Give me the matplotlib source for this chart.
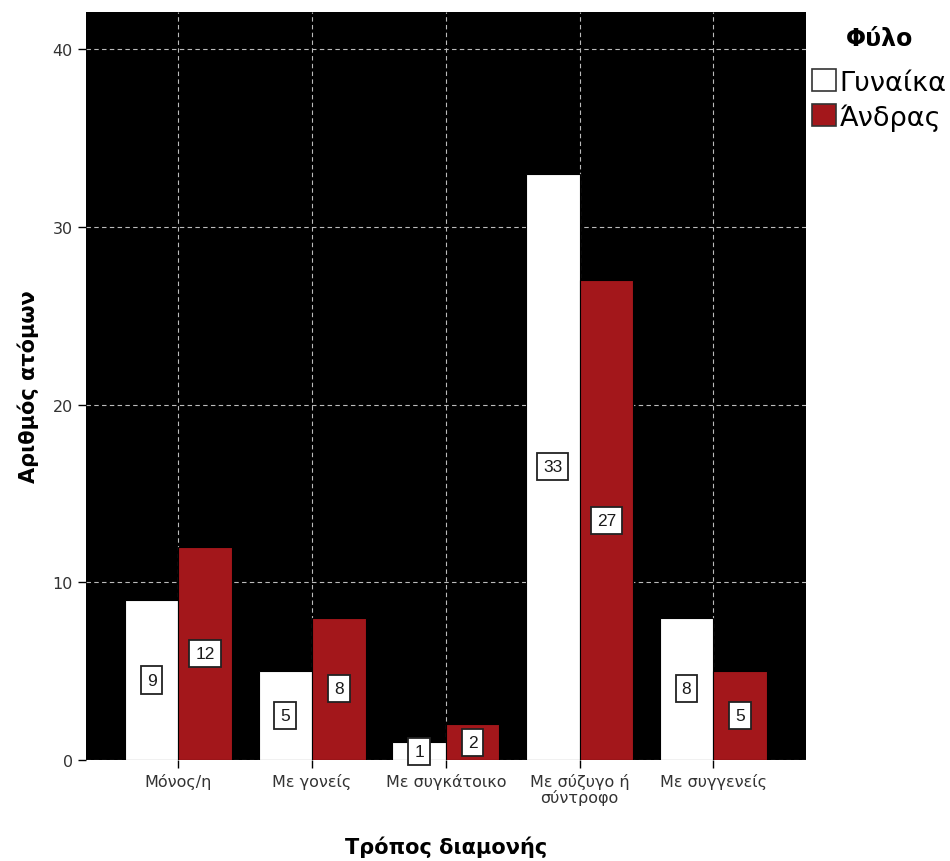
import matplotlib
matplotlib.use("Agg")
import matplotlib.pyplot as plt
import numpy as np
from matplotlib.patches import Patch

categories = ["Μόνος/η", "Με γονείς", "Με συγκάτοικο", "Με σύζυγο ή\nσύντροφο", "Με συγγενείς"]
women = [9, 5, 1, 33, 8]
men = [12, 8, 2, 27, 5]
series_names = ["Γυναίκα", "Άνδρας"]
yticks = [0, 10, 20, 30, 40]

plt.rcParams['font.family'] = ['DejaVu Sans']

fig = plt.figure(figsize=(9.5, 8.62), dpi=100)
ax = fig.add_axes([0.0905, 0.1172, 0.7575, 0.8678])
ax.set_facecolor("black")

x = np.arange(len(categories))
w = 0.4
red = "#a3171b"
b1 = ax.bar(x - w / 2, women, width=w, color="white", edgecolor="black", linewidth=0.8, zorder=3)
b2 = ax.bar(x + w / 2, men, width=w, color=red, edgecolor="black", linewidth=0.8, zorder=3)

for bars, vals in ((b1, women), (b2, men)):
    for rect, v in zip(bars, vals):
        ax.text(rect.get_x() + rect.get_width() / 2, v / 2, str(v),
                ha="center", va="center", fontsize=12.5, color="#1a1a1a", zorder=5,
                family="Liberation Sans",
                bbox=dict(boxstyle="square,pad=0.35", facecolor="white",
                          edgecolor="#222222", linewidth=1.3))

ax.set_xlim(-0.69, 4.69)
ax.set_ylim(0, 42.1)
ax.set_xticks(x)
ax.set_xticklabels(categories, fontsize=11.5, color="#333333", linespacing=0.95)
ax.set_yticks(yticks)
ax.set_yticklabels([str(t) for t in yticks], fontsize=11.5, color="#333333")
ax.tick_params(axis="both", direction="out", length=6, width=1, color="black")

ax.grid(True, color="#bbbbbb", linestyle=(0, (4, 3)), linewidth=0.8, zorder=1)
ax.set_axisbelow(True)
for s in ax.spines.values():
    s.set_visible(False)

ax.set_ylabel("Αριθμός ατόμων", fontsize=15, fontweight="bold", labelpad=10)
ax.set_xlabel("Τρόπος διαμονής", fontsize=15, fontweight="bold", labelpad=22)

handles = [Patch(facecolor="white", edgecolor="#333333", linewidth=1.2),
           Patch(facecolor=red, edgecolor="#333333", linewidth=1.2)]
leg = fig.legend(handles, series_names, loc="upper left", bbox_to_anchor=(0.849, 0.975),
                 frameon=False, fontsize=19.5, title="Φύλο",
                 title_fontproperties={"size": 17, "weight": "bold"},
                 handlelength=0.87, handleheight=0.87, handletextpad=0.15,
                 labelspacing=0.28, borderaxespad=0, borderpad=0.2)
leg._legend_box.sep = 14
leg._legend_box.align = "center"

fig.savefig("out.png", dpi=100)
